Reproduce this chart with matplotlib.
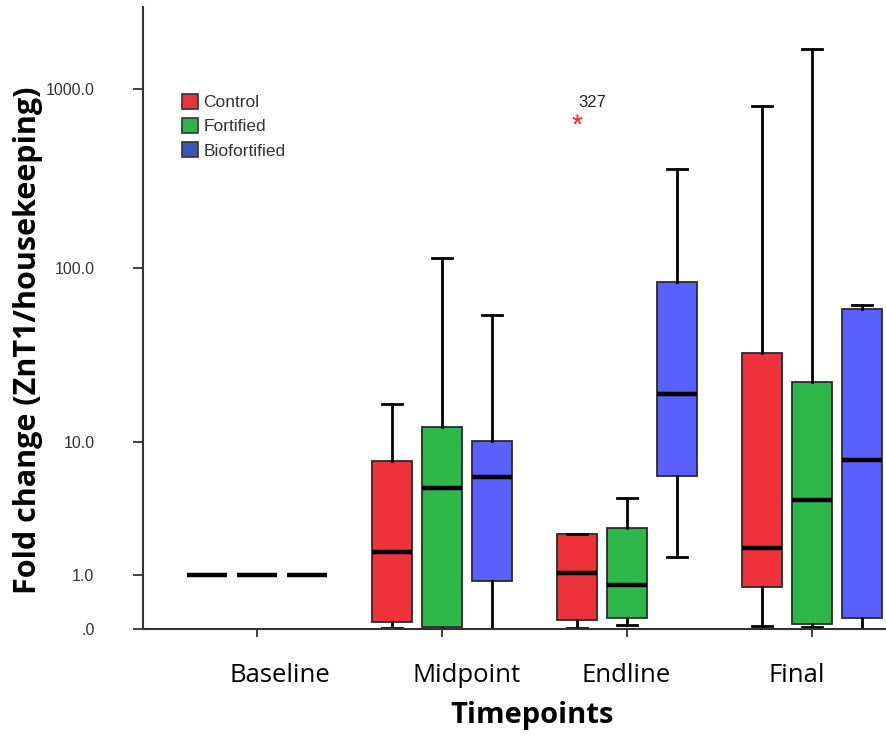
import matplotlib
matplotlib.use('Agg')
import matplotlib.pyplot as plt
from matplotlib.patches import Patch
import numpy as np

# Fold change of ZnT1 expression by timepoint and group
timepoints = ["Baseline", "Midpoint", "Endline", "Final"]
groups = ["Control", "Fortified", "Biofortified"]

# per group: [whisker low, Q1, median, Q3, whisker high] for each timepoint
control = [[1.0, 1.0, 1.0, 1.0, 1.0],
           [0.01, 0.094, 1.68, 7.6, 16.8],
           [0.01, 0.12, 1.05, 2.37, 2.37],
           [0.04, 0.71, 1.82, 33.0, 800.0]]
fortified = [[1.0, 1.0, 1.0, 1.0, 1.0],
             [0.0, 0.026, 5.07, 12.2, 114.0],
             [0.052, 0.151, 0.755, 2.64, 4.34],
             [0.02, 0.066, 4.21, 22.6, 1670.0]]
biofortified = [[1.0, 1.0, 1.0, 1.0, 1.0],
                [0.0, 0.85, 6.0, 10.1, 54.5],
                [1.5, 6.08, 19.2, 83.7, 358.0],
                [0.0, 0.15, 7.69, 59.0, 62.0]]
outliers = {("Control", "Endline"): ([680.0], ["327"])}

box_colors = ["#EE3239", "#2EB84A", "#5A5FFF"]
legend_colors = ["#EE3340", "#2FB34A", "#3D56B3"]

fig = plt.figure(figsize=(8.86, 7.35), dpi=100)
ax = fig.add_axes([143/886, 106/735, 743/886, 622/735])

# y axis is log10(y + 1)
ax.set_yscale('function', functions=(lambda v: np.log10(np.clip(v, 0, None) + 1),
                                      lambda v: 10**v - 1))

offsets = [-0.27, 0.0, 0.27]
for gi, (name, data, col) in enumerate(zip(groups, [control, fortified, biofortified], box_colors)):
    stats = []
    for ti, row in enumerate(data):
        lo, q1, med, q3, hi = row
        fl = outliers.get((name, timepoints[ti]), ([], []))[0]
        stats.append(dict(whislo=lo, q1=q1, med=med, q3=q3, whishi=hi, fliers=fl, label=""))
    pos = [ti + 1 + offsets[gi] for ti in range(len(data))]
    ax.bxp(stats, positions=pos, widths=0.216, patch_artist=True, showfliers=True,
           boxprops=dict(facecolor=col, edgecolor="#2b2b2b", linewidth=1.3),
           medianprops=dict(color="black", linewidth=3.2, solid_capstyle='butt'),
           whiskerprops=dict(color="black", linewidth=2),
           capprops=dict(color="black", linewidth=2),
           capwidths=0.108,
           flierprops=dict(marker=(5, 2, 0), markersize=7, markeredgecolor="#F03A40",
                           markeredgewidth=1.1, linestyle='none'))

# case number next to the outlier
for (name, tp), (vals, ids) in outliers.items():
    xo = timepoints.index(tp) + 1 + offsets[groups.index(name)]
    for v, lab in zip(vals, ids):
        ax.annotate(lab, xy=(xo, v), xytext=(11, 12), textcoords='offset points',
                    ha='center', va='center', fontsize=12, color="#222222",
                    family="Liberation Sans")

ax.set_xlim(0.384, 4.40)
ax.set_ylim(0, 2853)

ax.set_yticks([0, 1, 10, 100, 1000])
ax.set_yticklabels([".0", "1.0", "10.0", "100.0", "1000.0"], family="Liberation Sans",
                   fontsize=11.5, color="#333333")
ax.yaxis.set_minor_locator(matplotlib.ticker.NullLocator())
ax.tick_params(axis='y', direction='out', length=7, width=1.3, color="#333333", pad=28)

ax.set_xticks(range(1, len(timepoints) + 1))
ax.set_xticklabels([])
ax.tick_params(axis='x', direction='out', length=6, width=1.3, color="#333333")
label_x = [1.124, 2.135, 2.995, 3.92]
for lx, tp in zip(label_x, timepoints):
    ax.text(lx, -0.075, tp, transform=ax.get_xaxis_transform(), ha='center', va='center',
            fontsize=18.5, family="Open Sans", color="black")

for s in ["top", "right"]:
    ax.spines[s].set_visible(False)
for s in ["left", "bottom"]:
    ax.spines[s].set_color("#333333")
    ax.spines[s].set_linewidth(1.5)

fig.text(532/886, 1 - 715/735, "Timepoints", ha='center', va='center',
         fontsize=21, fontweight='bold', family="Open Sans")
fig.text(28/886, 1 - 340/735, "Fold change (ZnT1/housekeeping)", ha='center', va='center',
         rotation=90, fontsize=22, fontweight='bold', family="Open Sans")

handles = [Patch(facecolor=c, edgecolor="#333333", linewidth=1.2) for c in legend_colors]
leg = ax.legend(handles, groups, loc='upper left', bbox_to_anchor=(173/886, 1 - 85/735),
                bbox_transform=fig.transFigure, frameon=False, borderpad=0,
                handlelength=0.95, handleheight=0.95, handletextpad=0.3, labelspacing=0.45,
                prop=dict(family="Liberation Sans", size=12.5))
for t in leg.get_texts():
    t.set_color("#333333")

fig.savefig("out.png", dpi=100)
